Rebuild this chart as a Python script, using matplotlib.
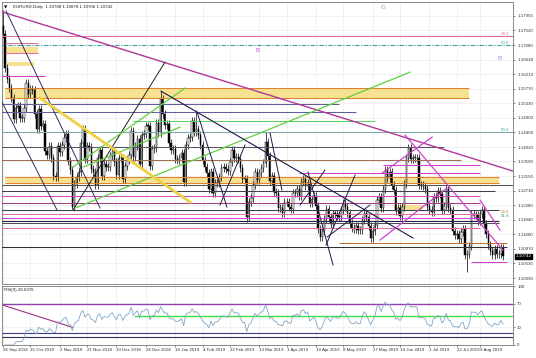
import numpy as np
import pandas as pd
import matplotlib
matplotlib.use("Agg")
import matplotlib.pyplot as plt
from matplotlib.transforms import blended_transform_factory

# EURUSD daily closes, one per bar (26 Sep 2018 ->)
closes = [
    1.1740, 1.1640, 1.1605,
    1.1578, 1.1548, 1.1485, 1.1518, 1.1525,
    1.1490, 1.1490, 1.1520, 1.1595, 1.1560,
    1.1575, 1.1573, 1.1500, 1.1455, 1.1515,
    1.1465, 1.1470, 1.1390, 1.1377, 1.1405,
    1.1370, 1.1315, 1.1311, 1.1405, 1.1388,
    1.1407, 1.1428, 1.1440, 1.1360, 1.1333,
    1.1222, 1.1290, 1.1312, 1.1327, 1.1415,
    1.1455, 1.1365, 1.1405, 1.1403, 1.1336,
    1.1327, 1.1289, 1.1368, 1.1394, 1.1315,
    1.1352, 1.1342, 1.1343, 1.1375, 1.1390,
    1.1356, 1.1317, 1.1370, 1.1368, 1.1306,
    1.1346, 1.1362, 1.1379, 1.1451, 1.1371,
    1.1404, 1.1425, 1.1352, 1.1437, 1.1440,
    1.1466, 1.1465, 1.1346, 1.1396, 1.1398,
    1.1473, 1.1443, 1.1545, 1.1500, 1.1467,
    1.1472, 1.1414, 1.1393, 1.1397, 1.1366,
    1.1362, 1.1369, 1.1383, 1.1298, 1.1408,
    1.1429, 1.1431, 1.1480, 1.1448, 1.1456,
    1.1438, 1.1408, 1.1363, 1.1341, 1.1325,
    1.1276, 1.1326, 1.1265, 1.1294, 1.1295,
    1.1311, 1.1340, 1.1341, 1.1337, 1.1331,
    1.1357, 1.1393, 1.1369, 1.1371, 1.1366,
    1.1339, 1.1306, 1.1307, 1.1193, 1.1236,
    1.1250, 1.1288, 1.1327, 1.1304, 1.1325,
    1.1339, 1.1354, 1.1418, 1.1374, 1.1299,
    1.1314, 1.1268, 1.1265, 1.1220, 1.1220,
    1.1205, 1.1237, 1.1236, 1.1221, 1.1215,
    1.1263, 1.1264, 1.1275, 1.1256, 1.1298,
    1.1305, 1.1284, 1.1295, 1.1233, 1.1245,
    1.1255, 1.1225, 1.1155, 1.1132, 1.1150,
    1.1185, 1.1215, 1.1193, 1.1171, 1.1202,
    1.1201, 1.1194, 1.1192, 1.1213, 1.1233,
    1.1223, 1.1204, 1.1174, 1.1159, 1.1157,
    1.1165, 1.1154, 1.1152, 1.1182, 1.1204,
    1.1191, 1.1164, 1.1130, 1.1151, 1.1169,
    1.1242, 1.1253, 1.1220, 1.1277, 1.1332,
    1.1310, 1.1326, 1.1289, 1.1274, 1.1210,
    1.1220, 1.1195, 1.1223, 1.1292, 1.1370,
    1.1398, 1.1366, 1.1369, 1.1370, 1.1368,
    1.1287, 1.1287, 1.1285, 1.1277, 1.1225,
    1.1214, 1.1206, 1.1253, 1.1250, 1.1270,
    1.1260, 1.1212, 1.1226, 1.1276, 1.1219,
    1.1212, 1.1150, 1.1139, 1.1142, 1.1125,
    1.1148, 1.1155, 1.1077, 1.1080, 1.1106,
    1.1202, 1.1198, 1.1199, 1.1180, 1.1201,
    1.1214, 1.1172, 1.1140, 1.1107, 1.1090,
    1.1078, 1.1095, 1.1080, 1.1082, 1.1100,
    1.1074,
]
first_open = 1.1765
spike_highs = {0: 1.1812, 75: 1.1570, 92: 1.1514, 125: 1.1448, 193: 1.1412}
spike_lows = {33: 1.1216, 116: 1.1176, 221: 1.1027}

date_labels = ['26 Sep 2018', '15 Oct 2018', '2 Nov 2018', '21 Nov 2018', '10 Dec 2018',
               '28 Dec 2018', '16 Jan 2019', '4 Feb 2019', '22 Feb 2019', '13 Mar 2019',
               '1 Apr 2019', '19 Apr 2019', '8 May 2019', '27 May 2019', '14 Jun 2019',
               '3 Jul 2019', '22 Jul 2019', '9 Aug 2019']
date_bars = [0, 13, 27, 40, 54, 68, 82, 95, 108, 122, 135, 149, 162, 176, 189, 203, 216, 227]

price_ticks = [1.17955, 1.17520, 1.17080, 1.16640, 1.16210, 1.15770, 1.15330, 1.14900,
               1.14460, 1.14020, 1.13590, 1.13150, 1.12710, 1.12280, 1.11840, 1.11400,
               1.10970, 1.10530, 1.10090]
last_price = 1.10742
rsi_ticks = [0, 30, 70, 100]

# drawn objects: horizontal levels (price, from bar, to bar, colour)
levels = [
    (1.1735, -2, 245, '#e07090'), (1.1714, 1, 16.6, '#e070a0'), (1.1684, 1, 16.6, '#e070a0'),
    (1.1615, -2, 20, '#d040c0'), (1.1579, 1, 222, '#e08030'), (1.1549, 1, 222, '#e08030'),
    (1.1531, -2, 160, '#60609a'), (1.1507, -2, 168, '#60609a'), (1.1480, 62, 177, '#60d060'),
    (1.1447, -2, 245, '#7aa8a8'), (1.1402, -2, 210, '#555566'), (1.1363, -2, 218, '#a07050'),
    (1.1348, 181, 227, '#d040d0'), (1.1324, 141, 227, '#d040d0'),
    (1.1312, 1, 236, '#e08030'), (1.1294, 1, 236, '#e08030'), (1.1288, -2, 245, '#555555'),
    (1.1270, -2, 234, '#404050'), (1.1255, -2, 227, '#d050c0'), (1.1234, -2, 227, '#a04080'),
    (1.1213, -2, 236, '#404050'), (1.1201, -2, 227, '#e070a0'), (1.1189, -2, 227, '#d040d0'),
    (1.1180, -2, 236, '#202050'), (1.1174, -2, 236, '#505050'), (1.1159, -2, 227, '#e070a0'),
    (1.1114, 160, 240, '#c07030'), (1.1102, -2, 240, '#303030'), (1.1057, 223, 240, '#d040d0'),
]
# filled zones (low, high, from bar, to bar)
zones = [(1.1684, 1.1702, 1, 16.6), (1.1645, 1.1657, 2, 14.5), (1.1549, 1.1579, 1, 222),
         (1.1294, 1.1312, 1, 236), (1.1213, 1.1228, 188, 200)]
# trend lines (bar0, price0, bar1, price1, colour, width)
trends = [
    (-0.5, 1.1808, 242.8, 1.1330, '#b0389a', 1.0),
    (1.4, 1.1811, 46.2, 1.1219, '#303060', 0.7),
    (-1.0, 1.1543, 25.7, 1.1213, '#303060', 0.7),
    (33.3, 1.1213, 77.1, 1.1657, '#202020', 0.7),
    (34.3, 1.1219, 193.8, 1.1627, '#60d040', 0.9),
    (33.3, 1.1342, 86.6, 1.1579, '#60d040', 0.9),
    (38.1, 1.1342, 84.3, 1.1462, '#60d040', 0.9),
    (17.6, 1.1549, 89.0, 1.1237, '#f0d040', 2.0),
    (75.2, 1.1570, 195.2, 1.1129, '#1a1a4a', 0.8),
    (92.4, 1.1507, 106.6, 1.1222, '#1a1a4a', 0.7),
    (103.3, 1.1228, 115.2, 1.1408, '#1a1a4a', 0.7),
    (127.1, 1.1444, 132.8, 1.1273, '#1a1a4a', 0.7),
    (141.4, 1.1228, 153.3, 1.1333, '#1a1a4a', 0.7),
    (145.2, 1.1327, 157.1, 1.1048, '#1a1a4a', 0.7),
    (153.8, 1.1108, 167.6, 1.1318, '#1a1a4a', 0.7),
    (154.3, 1.1132, 174.7, 1.1228, '#1a1a4a', 0.7),
    (180.5, 1.1324, 204.3, 1.1432, '#d040d0', 0.9),
    (191.4, 1.1438, 238.0, 1.1093, '#d040d0', 0.9),
    (179.5, 1.1123, 211.4, 1.1279, '#d040d0', 0.9),
    (227.1, 1.1243, 236.6, 1.1153, '#d040d0', 0.9),
]
fib_labels = [(1.1735, '38.2', '#e07090'), (1.1708, '50.0', '#40a0a0'),
              (1.1447, '50.0', '#40a0a0'), (1.1201, '23.6', '#e08030'), (1.1189, '61.8', '#40a0a0')]

n = len(closes)
x = np.arange(n)
opens = [first_open] + closes[:-1]
highs = [max(o, c) + 0.0012 for o, c in zip(opens, closes)]
lows = [min(o, c) - 0.0012 for o, c in zip(opens, closes)]
for k, v in spike_highs.items():
    highs[k] = v
for k, v in spike_lows.items():
    lows[k] = v

s = pd.Series(closes)
d = s.diff()
up = d.clip(lower=0).ewm(alpha=1 / 9, adjust=False).mean()
dn = (-d.clip(upper=0)).ewm(alpha=1 / 9, adjust=False).mean()
rsi = 100 - 100 / (1 + up / dn)

plt.rcParams['font.family'] = ['Liberation Sans', 'DejaVu Sans']
fig = plt.figure(figsize=(5.36, 3.58), dpi=100)
ax = fig.add_axes([2 / 536, 74 / 358, 511 / 536, 282 / 358])
ax2 = fig.add_axes([2 / 536, 13 / 358, 511 / 536, 59 / 358])
xlim = (-0.5, 242.8)
fs = 3.2

for a in (ax, ax2):
    a.set_xlim(*xlim)
    for sp in a.spines.values():
        sp.set_color('#777777')
        sp.set_linewidth(0.6)
    a.yaxis.tick_right()
    a.tick_params(axis='y', labelsize=fs, length=1.5, width=0.4, pad=1.5, colors='#333333')
    for b in date_bars:
        a.axvline(b, color='#c8c8c8', lw=0.5, ls=(0, (1, 2)), zorder=0)

ax.set_ylim(1.09910, 1.18375)
ax.set_yticks(price_ticks)
ax.set_yticklabels([f'{p:.5f}' for p in price_ticks])
ax.set_xticks([])
for p in price_ticks:
    ax.axhline(p, color='#c8c8c8', lw=0.5, ls=(0, (1, 2)), zorder=0)

for lo, hi, b0, b1 in zones:
    ax.fill_between([b0, b1], lo, hi, color='#f6e290', lw=0, zorder=1)

# candles
ax.vlines(x, lows, highs, color='black', lw=0.5, zorder=2)
o = np.array(opens)
c = np.array(closes)
bull = c >= o
ax.bar(x[bull], np.maximum(c[bull] - o[bull], 0.0002), bottom=o[bull], width=0.65,
       color='white', edgecolor='black', linewidth=0.35, zorder=2)
ax.bar(x[~bull], np.maximum(o[~bull] - c[~bull], 0.0002), bottom=c[~bull], width=0.65,
       color='black', edgecolor='black', linewidth=0.35, zorder=2)

for p, b0, b1, col in levels:
    ax.plot([b0, b1], [p, p], color=col, lw=0.75, zorder=3, solid_capstyle='butt')
ax.plot([-2, 245], [1.1708, 1.1708], color='#40a0a0', lw=0.8, ls=(0, (4, 1.5, 1, 1.5)), zorder=3)
for b0, p0, b1, p1, col, w in trends:
    ax.plot([b0, b1], [p0, p1], color=col, lw=w, zorder=3)

for p, t, col in fib_labels:
    ax.text(241, p, t, color=col, fontsize=fs, ha='right', va='bottom', zorder=4)
ax.text(121.4, 1.1693, 'B', color='#c050d0', fontsize=4.5, ha='center', va='center')
ax.text(236.2, 1.1669, 'B', color='#b080d0', fontsize=4.5, ha='center', va='center')
ax.text(180.9, 1.1820, 'G', color='#b080d0', fontsize=4.5, ha='center', va='center')

ax.text(0.004, 0.988, '\u25bc', transform=ax.transAxes, fontsize=3, va='top', ha='left',
        family=['DejaVu Sans'])
ax.text(0.022, 0.99, 'EURUSD,Daily  1.10788 1.10878 1.10706 1.10742', transform=ax.transAxes,
        fontsize=fs, va='top', ha='left', color='#222222')

tr = blended_transform_factory(ax.transAxes, ax.transData)
ax.text(1.005, last_price, f'{last_price:.5f}', transform=tr, fontsize=fs, color='white',
        va='center', ha='left', bbox=dict(boxstyle='square,pad=0.15', fc='black', ec='black'),
        zorder=5, clip_on=False)

# RSI panel
ax2.set_ylim(0, 100)
ax2.set_yticks(rsi_ticks)
ax2.set_yticklabels([str(v) for v in rsi_ticks])
for v in (30, 70):
    ax2.axhline(v, color='#c8c8c8', lw=0.5, ls=(0, (1, 2)), zorder=0)
ax2.plot([-2, 245], [70, 70], color='#9040b0', lw=1.0, zorder=2)
ax2.plot([63, 245], [50, 50], color='#40e040', lw=1.0, zorder=2)
ax2.plot([-2, 245], [20, 20], color='#404080', lw=0.8, zorder=2)
ax2.plot([-2, 245], [13, 13], color='#303060', lw=0.8, zorder=2)
ax2.plot([-0.5, 33], [68, 30], color='#a03080', lw=0.8, zorder=2)
ax2.plot(x, rsi, color='#7fa6c8', lw=0.6, zorder=3)
ax2.text(0.004, 0.97, 'RSI(9) 28.6376', transform=ax2.transAxes, fontsize=fs, va='top',
         ha='left', color='#222222')
ax2.set_xticks(date_bars)
ax2.set_xticklabels(date_labels, ha='left')
ax2.tick_params(axis='x', labelsize=fs, length=1.5, width=0.4, pad=1, colors='#333333')

fig.savefig('out.png', dpi=100)
